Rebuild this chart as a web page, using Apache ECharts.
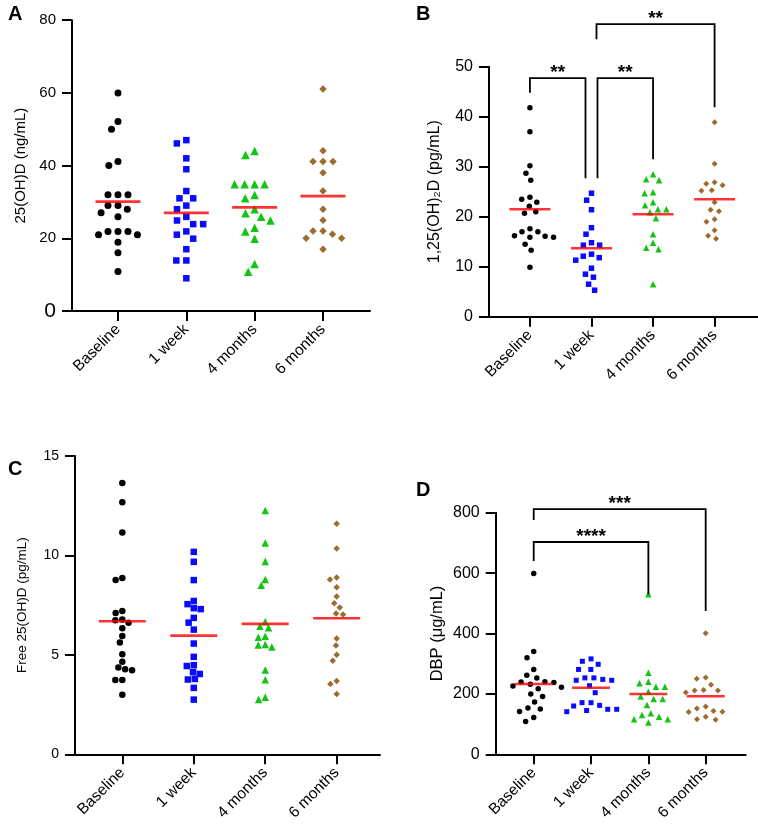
<!DOCTYPE html>
<html><head><meta charset="utf-8">
<script src="https://cdn.jsdelivr.net/npm/echarts@6/dist/echarts.min.js"></script>
<style>html,body{margin:0;padding:0;background:#fff}#c{width:758px;height:826px}</style>
</head><body><div id="c"></div>
<script>
const categories = ['Baseline', '1 week', '4 months', '6 months'];

// Panel A: 25(OH)D (ng/mL)
const aBaseline = [60.0, 52.1, 50.0, 41.1, 40.0, 32.0, 32.0, 32.0, 29.0, 29.0, 28.0, 27.0, 25.9, 21.9, 21.9, 21.9, 21.0, 21.0, 18.9, 16.0, 10.9];
const aWeek1 = [47.0, 46.1, 42.0, 39.0, 33.0, 31.0, 31.0, 29.0, 28.0, 25.9, 24.9, 23.9, 23.9, 21.9, 21.0, 19.9, 17.0, 13.9, 13.9, 9.0];
const aMonth4 = [44.0, 42.9, 34.9, 34.9, 34.9, 34.9, 31.9, 31.0, 28.0, 26.9, 25.9, 24.9, 22.9, 21.9, 19.9, 12.9, 10.8];
const aMonth6 = [61.1, 44.1, 41.1, 41.1, 41.1, 38.0, 33.0, 28.0, 25.0, 22.0, 22.0, 21.1, 20.0, 20.0, 17.0];
const aMeans = [30.1, 27.0, 28.5, 31.6];

// Panel B: 1,25(OH)2D (pg/mL)
const bBaseline = [41.8, 37.0, 30.2, 28.7, 27.3, 23.9, 23.5, 22.9, 22.1, 21.0, 20.7, 17.6, 17.0, 17.0, 16.2, 16.1, 15.9, 15.9, 14.5, 13.3, 9.9];
const bWeek1 = [24.7, 23.3, 21.4, 17.8, 16.5, 14.8, 14.3, 14.3, 12.5, 12.1, 11.8, 11.3, 9.7, 8.5, 7.9, 6.5, 5.3];
const bMonth4 = [28.5, 27.5, 27.3, 24.9, 24.7, 22.9, 22.3, 21.5, 21.5, 20.9, 19.7, 16.5, 14.8, 13.8, 13.5, 6.5];
const bMonth6 = [38.9, 30.6, 26.9, 26.6, 26.3, 25.3, 25.2, 22.9, 21.4, 21.1, 19.5, 19.0, 17.3, 16.2, 15.6];
const bMeans = [21.5, 13.7, 20.5, 23.5];
// brackets: [fromGroup, toGroup, topValue, leftEndValue, rightEndValue]
const bBrackets = [[0, 1, 47.7, 44.8, 27.7], [1, 2, 47.7, 27.7, 31.5], [1, 3, 58.5, 55.5, 41.9]];
const bBracketLabels = ['**', '**', '**'];

// Panel C: Free 25(OH)D (pg/mL)
const cBaseline = [13.64, 12.68, 11.15, 8.87, 8.76, 7.21, 7.10, 6.78, 6.74, 6.62, 6.34, 5.95, 5.62, 5.03, 4.65, 4.36, 4.28, 4.23, 3.74, 3.74, 3.00];
const cWeek1 = [10.18, 9.68, 8.76, 7.71, 7.55, 7.35, 7.30, 6.86, 6.62, 6.27, 5.57, 4.90, 4.48, 4.44, 4.13, 4.04, 3.79, 3.76, 3.34, 2.75];
const cMonth4 = [12.26, 10.63, 9.69, 8.79, 8.50, 6.67, 6.44, 6.36, 5.94, 5.89, 5.52, 5.49, 5.40, 4.24, 3.75, 2.87, 2.75];
const cMonth6 = [11.59, 10.35, 8.89, 8.79, 8.40, 7.93, 7.60, 7.38, 7.08, 7.03, 5.82, 5.47, 5.00, 4.71, 3.69, 3.54, 3.03];
const cMeans = [6.69, 5.97, 6.56, 6.84];

// Panel D: DBP (µg/mL)
const dBaseline = [599, 340, 320, 281, 262, 253, 240, 239, 238, 232, 226, 222, 217, 200, 191, 173, 153, 150, 142, 122, 109];
const dWeek1 = [316, 308, 298, 281, 281, 253, 253, 248, 245, 245, 227, 204, 171, 171, 162, 160, 149, 149, 145, 141];
const dMonth4 = [530, 270, 240, 235, 224, 224, 207, 191, 183, 183, 163, 136, 130, 124, 116, 116, 105];
const dMonth6 = [401, 254, 250, 230, 213, 211, 211, 205, 158, 152, 143, 141, 140, 124, 116, 114];
const dMeans = [232.8, 220.6, 199.7, 192.0];
const dBrackets = [[0, 3, 812, 776, 474.5], [0, 2, 703, 640, 530]];
const dBracketLabels = ['***', '****'];

// ---------- layout / style ----------
const FONT = '"Liberation Sans", Arial, Helvetica, sans-serif';
const groupColors = ['#000000', '#0a0aff', '#14c414', '#9c6b2e'];
const DIAMOND = 'path://M0,-1L1,0L0,1L-1,0Z';
const groupSymbols = ['circle', 'rect', 'triangle', DIAMOND];

const panels = [
  { letter: 'A', grid: { left: 72, top: 20.2, width: 298, height: 290.8 }, xMin: -0.673, xMax: 3.688,
    yMax: 80, yInterval: 20, yName: '25(OH)D (ng/mL)', nameGap: 44, nameSize: 15, tickSize: 15,
    sizes: [7, 6.5, 8.5, 7.5], spacing: 10, meanW: 45,
    groups: [aBaseline, aWeek1, aMonth4, aMonth6], means: aMeans, bigZero: true },
  { letter: 'B', grid: { left: 489, top: 66.7, width: 268.5, height: 250 }, xMin: -0.665, xMax: 3.697,
    yMax: 50, yInterval: 10, yName: '1,25(OH)\u2082D (pg/mL)', nameGap: 46, nameSize: 16, tickSize: 16,
    sizes: [5.5, 5.5, 6.5, 6], spacing: 8.5, meanW: 41,
    groups: [bBaseline, bWeek1, bMonth4, bMonth6], means: bMeans,
    brackets: bBrackets, bracketLabels: bBracketLabels, legShift: [[0, -6], [6, 0], [5, 0]] },
  { letter: 'C', grid: { left: 75, top: 456, width: 305, height: 298.3 }, xMin: -0.662, xMax: 3.606,
    yMax: 15, yInterval: 5, yName: 'Free 25(OH)D (pg/mL)', nameGap: 46, nameSize: 13.5, tickSize: 14,
    sizes: [6.5, 6.5, 7.5, 6.5], spacing: 7, meanW: 47,
    groups: [cBaseline, cWeek1, cMonth4, cMonth6], means: cMeans },
  { letter: 'D', grid: { left: 495.7, top: 512.7, width: 250, height: 241.6 }, xMin: -0.663, xMax: 3.698,
    yMax: 800, yInterval: 200, yName: 'DBP (\u03bcg/mL)', nameGap: 50, nameSize: 16.5, tickSize: 16,
    sizes: [5.5, 5, 6.5, 6], spacing: 9, meanW: 38,
    groups: [dBaseline, dWeek1, dMonth4, dMonth6], means: dMeans,
    brackets: dBrackets, bracketLabels: dBracketLabels, legShift: [[0, 0], [0, 0]] }
];
const letterPos = [[8, 4], [416, 4], [8, 459], [416, 480]];

// beeswarm: horizontal pixel offsets computed from values (collision avoidance)
function swarm(values, pxPerUnit, D) {
  const pts = values.map((v, i) => ({ v, i, y: v * pxPerUnit, x: 0 }));
  const order = pts.slice().sort((a, b) => b.v - a.v);
  const placed = [];
  const offs = new Array(values.length).fill(0);
  for (const p of order) {
    const near = placed.filter(q => Math.abs(q.y - p.y) < D);
    const cands = [0];
    for (const q of near) {
      const dx = Math.sqrt(D * D - (q.y - p.y) ** 2);
      cands.push(q.x - dx, q.x + dx);
    }
    cands.sort((a, b) => Math.abs(a) - Math.abs(b));
    let x = cands[cands.length - 1];
    for (const c of cands) {
      if (near.every(q => (q.x - c) ** 2 + (q.y - p.y) ** 2 >= D * D - 1e-6)) { x = c; break; }
    }
    p.x = x; placed.push(p); offs[p.i] = x;
  }
  return offs;
}

const grids = [], xAxes = [], yAxes = [], series = [], graphics = [];
panels.forEach((P, pi) => {
  grids.push(Object.assign({ containLabel: false }, P.grid));
  xAxes.push({
    type: 'value', gridIndex: pi, min: P.xMin, max: P.xMax,
    axisLine: { show: true, onZero: false, lineStyle: { color: '#000', width: 2 } },
    axisTick: { show: true, length: 10, lineStyle: { color: '#000', width: 2 }, customValues: [0, 1, 2, 3] },
    axisLabel: { customValues: [0, 1, 2, 3], rotate: 45, margin: 16, fontSize: 15.5, color: '#000', fontFamily: FONT,
      formatter: v => categories[Math.round(v)] },
    splitLine: { show: false }
  });
  yAxes.push({
    type: 'value', gridIndex: pi, min: 0, max: P.yMax, interval: P.yInterval,
    name: P.yName, nameLocation: 'middle', nameGap: P.nameGap,
    nameTextStyle: { fontSize: P.nameSize, color: '#000', fontFamily: FONT },
    axisLine: { show: true, onZero: false, lineStyle: { color: '#000', width: 2 } },
    axisTick: { show: true, length: 10, lineStyle: { color: '#000', width: 2 } },
    axisLabel: { margin: 16, fontSize: P.tickSize, color: '#000', fontFamily: FONT,
      formatter: P.bigZero ? (v => v === 0 ? '{big|0}' : String(v)) : (v => String(v)),
      rich: { big: { fontSize: 21, color: '#000', fontFamily: FONT } } },
    splitLine: { show: false }
  });
  const pxPerUnit = P.grid.height / P.yMax;
  const pxPerCat = P.grid.width / (P.xMax - P.xMin);
  P.groups.forEach((vals, gi) => {
    const offs = swarm(vals, pxPerUnit, P.spacing);
    series.push({
      type: 'scatter', xAxisIndex: pi, yAxisIndex: pi,
      symbol: groupSymbols[gi], symbolSize: P.sizes[gi],
      itemStyle: { color: groupColors[gi], opacity: 1 },
      data: vals.map((v, k) => [gi + offs[k] / pxPerCat, v]),
      z: 3, silent: true
    });
  });
  series.push({
    type: 'scatter', xAxisIndex: pi, yAxisIndex: pi,
    symbol: 'rect', symbolSize: [P.meanW, 2.6],
    itemStyle: { color: '#ff0000' },
    data: P.means.map((m, gi) => [gi, m]), z: 5, silent: true
  });
  if (P.brackets) {
    series.push({
      type: 'custom', xAxisIndex: pi, yAxisIndex: pi, clip: false, silent: true, z: 6,
      data: P.brackets.map((b, k) => b.concat([k])),
      renderItem: (params, api) => {
        const x1 = api.value(0), x2 = api.value(1), top = api.value(2), le = api.value(3), re = api.value(4);
        const k = api.value(5);
        const sh = P.legShift[k];
        const pTL = api.coord([x1, top]), pTR = api.coord([x2, top]);
        const pL = api.coord([x1, le]), pR = api.coord([x2, re]);
        const xl = pTL[0] + sh[0], xr = pTR[0] + sh[1];
        return {
          type: 'group', children: [
            { type: 'polyline', shape: { points: [[xl, pL[1]], [xl, pTL[1]], [xr, pTR[1]], [xr, pR[1]]] },
              style: { stroke: '#000', lineWidth: 1.8, fill: null } },
            { type: 'text', style: { text: P.bracketLabels[k], x: (xl + xr) / 2, y: pTL[1] - 5,
              align: 'center', verticalAlign: 'middle', font: 'bold 19px ' + FONT, fill: '#000' } }
          ]
        };
      }
    });
  }
  graphics.push({ type: 'text', left: letterPos[pi][0], top: letterPos[pi][1],
    style: { text: P.letter, font: 'bold 20px ' + FONT, fill: '#000' } });
});

const chart = echarts.init(document.getElementById('c'), null, { renderer: 'canvas' });
chart.setOption({
  animation: false,
  backgroundColor: '#fff',
  textStyle: { fontFamily: FONT },
  grid: grids, xAxis: xAxes, yAxis: yAxes, series: series, graphic: graphics
});
</script></body></html>
